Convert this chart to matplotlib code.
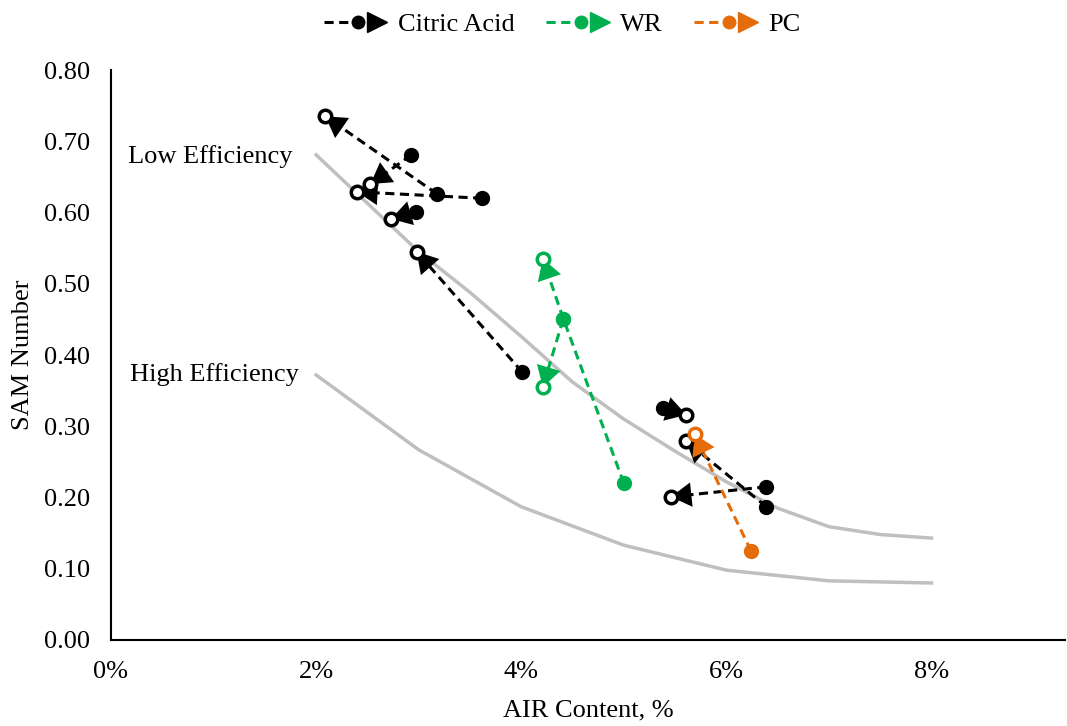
import matplotlib
matplotlib.use("Agg")
import matplotlib.pyplot as plt
from matplotlib.lines import Line2D
from matplotlib.legend_handler import HandlerBase
from matplotlib.ticker import PercentFormatter
import numpy as np

# efficiency boundary curves (air content, SAM number)
low_air = [0.02, 0.025, 0.03, 0.035, 0.04, 0.045, 0.05, 0.055, 0.06, 0.065, 0.07, 0.075, 0.08]
low_eff_sam = [0.681, 0.613, 0.545, 0.488, 0.426, 0.362, 0.310, 0.265, 0.222, 0.185, 0.159, 0.148, 0.143]
high_air = [0.02, 0.03, 0.04, 0.05, 0.06, 0.07, 0.08]
high_eff_sam = [0.372, 0.267, 0.187, 0.133, 0.098, 0.083, 0.080]

# citric acid: filled point -> open point
citric_x = [[0.0318, 0.0209], [0.0293, 0.0253], [0.0362, 0.0240], [0.0297, 0.0273],
            [0.0401, 0.0298], [0.0538, 0.0561], [0.0639, 0.0561], [0.0639, 0.0546]]
citric_y = [[0.626, 0.735], [0.681, 0.640], [0.620, 0.629], [0.601, 0.591],
            [0.376, 0.545], [0.326, 0.316], [0.187, 0.279], [0.215, 0.201]]

# WR
wr_x = [[0.0500, 0.0441, 0.0421], [0.0441, 0.0421]]
wr_y = [[0.220, 0.451, 0.355], [0.451, 0.535]]

# PC
pc_x = [[0.0624, 0.0569]]
pc_y = [[0.125, 0.289]]

series = [("Citric Acid", "black", citric_x, citric_y),
          ("WR", "#00B050", wr_x, wr_y),
          ("PC", "#E46C0A", pc_x, pc_y)]

plt.rcParams['font.family'] = ['Liberation Serif', 'DejaVu Serif']
FS = 19
dash = (0, (3, 1.8))

fig = plt.figure(figsize=(10.67, 7.26), dpi=100)
ax = fig.add_axes([0.104, 0.1185, 0.894, 0.785])
ax.set_xlim(0, 0.093)
ax.set_ylim(0, 0.80)

ax.plot(low_air, low_eff_sam, color='#BFBFBF', lw=2.5, zorder=1)
ax.plot(high_air, high_eff_sam, color='#BFBFBF', lw=2.5, zorder=1)

for name, col, xs, ys in series:
    for px, py in zip(xs, ys):
        ax.plot(px, py, color=col, lw=2.2, linestyle=dash, zorder=2)
        ax.plot(px[:-1], py[:-1], 'o', color=col, ms=10, zorder=4)
        # arrow head at the end of the path, pointing along last segment
        p0 = ax.transData.transform((px[-2], py[-2]))
        p1 = ax.transData.transform((px[-1], py[-1]))
        d = (p1 - p0) / np.hypot(*(p1 - p0))
        ax.annotate('', xy=(px[-1], py[-1]), xytext=(-d[0] * 15, -d[1] * 15),
                    textcoords='offset points',
                    arrowprops=dict(arrowstyle='-|>,head_length=0.7,head_width=0.42',
                                    color=col, lw=0, shrinkA=0, shrinkB=0,
                                    mutation_scale=21), zorder=3)
        ax.plot(px[-1], py[-1], 'o', mfc='white', mec=col, mew=2.5, ms=9, zorder=5)

ax.text(0.0017, 0.679, "Low Efficiency", fontsize=FS, va='center')
ax.text(0.0019, 0.372, "High Efficiency", fontsize=FS, va='center')

ax.set_yticks(np.arange(0, 0.81, 0.1))
ax.set_yticklabels(["%.2f" % v for v in np.arange(0, 0.81, 0.1)])
ax.set_xticks([0, 0.02, 0.04, 0.06, 0.08])
ax.xaxis.set_major_formatter(PercentFormatter(1, decimals=0))
ax.tick_params(axis='y', length=0, pad=15, labelsize=FS)
ax.tick_params(axis='x', length=0, pad=15, labelsize=FS)
for s in ['top', 'right']:
    ax.spines[s].set_visible(False)
for s in ['left', 'bottom']:
    ax.spines[s].set_linewidth(1.5)
ax.set_xlabel("AIR Content, %", fontsize=FS, labelpad=12)
ax.set_ylabel("SAM Number", fontsize=FS, labelpad=7)


class ArrowHandler(HandlerBase):
    def create_artists(self, legend, orig_handle, xdescent, ydescent, width, height, fontsize, trans):
        col = orig_handle.get_color()
        y = height / 2 - ydescent
        x0 = -xdescent
        line = Line2D([x0, x0 + 0.8 * width], [y, y], color=col, lw=2.2, linestyle=dash)
        dot = Line2D([x0 + 0.54 * width], [y], marker='o', color=col, ms=9)
        tri = Line2D([x0 + 0.84 * width], [y], marker='>', color=col, ms=14)
        for a in (line, dot, tri):
            a.set_transform(trans)
        return [line, dot, tri]


handles = [Line2D([], [], color=col, label=name) for name, col, _, _ in series]
fig.legend(handles=handles, loc='upper center', bbox_to_anchor=(0.527, 0.997), ncol=3,
           frameon=False, fontsize=FS, handlelength=2.4, columnspacing=1.2,
           handletextpad=0.4, borderaxespad=0.0,
           handler_map={h: ArrowHandler() for h in handles})

fig.savefig("out.png", dpi=100)
